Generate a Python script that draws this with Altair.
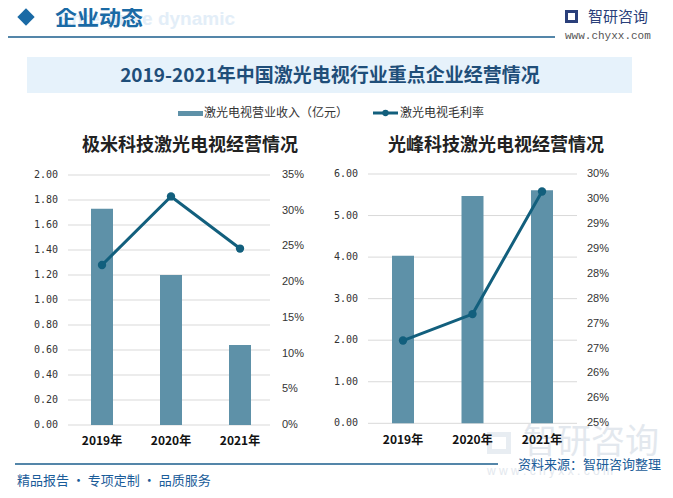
import altair as alt
import pandas as pd

# ---------------- data ----------------
years = ["2019年", "2020年", "2021年"]
xgimi_revenue = [1.73, 1.20, 0.64]          # 亿元
xgimi_margin = [0.224, 0.320, 0.247]
appo_revenue = [4.03, 5.47, 5.61]           # 亿元
appo_margin = [0.2666, 0.2719, 0.2965]

left_rev_ticks = [0.0, 0.2, 0.4, 0.6, 0.8, 1.0, 1.2, 1.4, 1.6, 1.8, 2.0]
left_rev_labels = ["0.00", "0.20", "0.40", "0.60", "0.80", "1.00", "1.20", "1.40", "1.60", "1.80", "2.00"]
left_pct_ticks = [0.0, 0.05, 0.10, 0.15, 0.20, 0.25, 0.30, 0.35]
left_pct_labels = ["0%", "5%", "10%", "15%", "20%", "25%", "30%", "35%"]
right_rev_ticks = [0, 1, 2, 3, 4, 5, 6]
right_rev_labels = ["0.00", "1.00", "2.00", "3.00", "4.00", "5.00", "6.00"]
right_pct_ticks = [0.25, 0.255, 0.26, 0.265, 0.27, 0.275, 0.28, 0.285, 0.29, 0.295, 0.30]
right_pct_labels = ["25%", "26%", "26%", "27%", "27%", "28%", "28%", "29%", "29%", "30%", "30%"]

BAR = "#5e91a8"
LINE = "#125f7d"
GRID = "#d9d9d9"
CJK = "Noto Sans CJK SC"
DARK = "#1f4e79"
BLUE = "#1a5c99"
WM = "#e3e8ee"


def txt(s, x, y, size=12, color="#333333", weight="normal", align="left", font=CJK, baseline="middle", opacity=1.0):
    return alt.Chart(pd.DataFrame({"t": [s]})).mark_text(
        align=align, baseline=baseline, fontSize=size, fontWeight=weight,
        color=color, font=font, opacity=opacity
    ).encode(x=alt.value(x), y=alt.value(y), text="t:N")


def rect(x, x2, y, y2, color):
    return alt.Chart(pd.DataFrame({"a": [0]})).mark_rect(color=color).encode(
        x=alt.value(x), x2=alt.value(x2), y=alt.value(y), y2=alt.value(y2))


def rule(x, x2, y, color, width):
    return alt.Chart(pd.DataFrame({"a": [0]})).mark_rule(color=color, strokeWidth=width).encode(
        x=alt.value(x), x2=alt.value(x2), y=alt.value(y))


def panel(revenue, margin, rev_ticks, rev_labels, pct_ticks, pct_labels,
          rev_dom, pct_dom, yrange, xband, gx0, gx1, lab_left, lab_right, xlab_y):
    xs = alt.Scale(domain=years, range=xband, paddingInner=0, paddingOuter=0)
    ys = alt.Scale(domain=rev_dom, range=yrange, nice=False, zero=False)
    ps = alt.Scale(domain=pct_dom, range=yrange, nice=False, zero=False)
    df = pd.DataFrame({"year": years, "rev": revenue, "pct": margin})
    grid = alt.Chart(pd.DataFrame({"v": rev_ticks})).mark_rule(color=GRID, strokeWidth=1).encode(
        y=alt.Y("v:Q", scale=ys, axis=None), x=alt.value(gx0), x2=alt.value(gx1))
    ylab = alt.Chart(pd.DataFrame({"v": rev_ticks, "l": rev_labels})).mark_text(
        align="right", baseline="middle", fontSize=10, font="DejaVu Sans Mono", color="#333333").encode(
        y=alt.Y("v:Q", scale=ys, axis=None), x=alt.value(lab_left), text="l:N")
    plab = alt.Chart(pd.DataFrame({"v": pct_ticks, "l": pct_labels})).mark_text(
        align="left", baseline="middle", fontSize=11, font="Liberation Sans", color="#333333").encode(
        y=alt.Y("v:Q", scale=ps, axis=None), x=alt.value(lab_right), text="l:N")
    bars = alt.Chart(df).mark_bar(color=BAR, size=22).encode(
        x=alt.X("year:N", scale=xs, axis=None, sort=years),
        y=alt.Y("rev:Q", scale=ys, axis=None))
    line = alt.Chart(df).mark_line(color=LINE, strokeWidth=3).encode(
        x=alt.X("year:N", scale=xs, axis=None, sort=years),
        y=alt.Y("pct:Q", scale=ps, axis=None))
    pts = alt.Chart(df).mark_point(color=LINE, filled=True, size=70, opacity=1).encode(
        x=alt.X("year:N", scale=xs, axis=None, sort=years),
        y=alt.Y("pct:Q", scale=ps, axis=None))
    xlab = alt.Chart(df).mark_text(fontSize=12, fontWeight="bold", font=CJK, color="#111111",
                                   baseline="middle").encode(
        x=alt.X("year:N", scale=xs, axis=None, sort=years), y=alt.value(xlab_y), text="year:N")
    return [grid, ylab, plab, bars, line, pts, xlab]


layers = []
# header
layers.append(txt("Enterprise dynamic", 227, 11, size=19, color="#e3eef8", weight="bold", align="right", font="Liberation Sans"))
layers.append(alt.Chart(pd.DataFrame({"a": [0]})).mark_point(shape="diamond", filled=True, size=300,
                                                             color="#1a6aa5", opacity=1).encode(
    x=alt.value(18), y=alt.value(9)))
layers.append(txt("企业动态", 47, 10, size=22, color="#1a6aa5", weight="bold"))
layers.append(rule(0, 547, 29, "#1b5e8c", 1.5))
layers.append(rect(557, 570, 2, 15, "#2a3f7a"))
layers.append(rect(560, 567, 5, 12, "#ffffff"))
layers.append(txt("智研咨询", 580, 9, size=15, color="#2a3f7a"))
layers.append(txt("www.chyxx.com", 557, 28, size=11, color="#555555", font="Liberation Mono"))

# title band
layers.append(rect(19, 624, 49, 85, "#e6f2fb"))
layers.append(txt("2019-2021年中国激光电视行业重点企业经营情况", 322, 68, size=19, color=DARK, weight="bold", align="center"))

# legend
layers.append(rect(170, 195, 103, 108, BAR))
layers.append(txt("激光电视营业收入（亿元）", 196, 105, size=12, color="#333333"))
layers.append(rule(365, 390, 105, LINE, 3))
layers.append(alt.Chart(pd.DataFrame({"a": [0]})).mark_point(filled=True, size=40, color=LINE, opacity=1).encode(
    x=alt.value(377.5), y=alt.value(105)))
layers.append(txt("激光电视毛利率", 392, 105, size=12, color="#333333"))

# subtitles
layers.append(txt("极米科技激光电视经营情况", 182, 138, size=18, color="#222222", weight="bold", align="center"))
layers.append(txt("光峰科技激光电视经营情况", 488, 138, size=18, color="#222222", weight="bold", align="center"))

# faint bottom-right watermark (behind the panels' labels)
layers.append(rect(479, 503, 424, 446, "#e8edf2"))
layers.append(rect(484, 498, 429, 441, "#ffffff"))
layers.append(txt("智研咨询", 515, 435, size=34, color=WM))
layers.append(txt("w w w . c h y x x . c o m", 479, 463, size=12, color=WM, font="Liberation Sans"))

# panels
layers += panel(xgimi_revenue, xgimi_margin, left_rev_ticks, left_rev_labels, left_pct_ticks, left_pct_labels,
                [0, 2.0], [0, 0.35], [417, 167], [59.5, 266.5], 60, 262, 50, 274, 433)
layers += panel(appo_revenue, appo_margin, right_rev_ticks, right_rev_labels, right_pct_ticks, right_pct_labels,
                [0, 6], [0.25, 0.30], [415.3, 166], [360.25, 568.75], 360, 569, 350, 579, 432)

# footer
layers.append(rule(7, 490, 456, "#1b5e8c", 1.5))
layers.append(txt("精品报告 · 专项定制 · 品质服务", 9, 473, size=13, color=BLUE))
layers.append(txt("资料来源：智研咨询整理", 653, 457, size=13, color=BLUE, align="right"))

chart = alt.layer(*layers).resolve_scale(x="independent", y="independent").properties(
    width=657, height=482, autosize=alt.AutoSizeParams(type="none"), padding=0
).configure_view(stroke=None)

chart.save("out.html", embed_options={"renderer": "svg", "actions": False})
